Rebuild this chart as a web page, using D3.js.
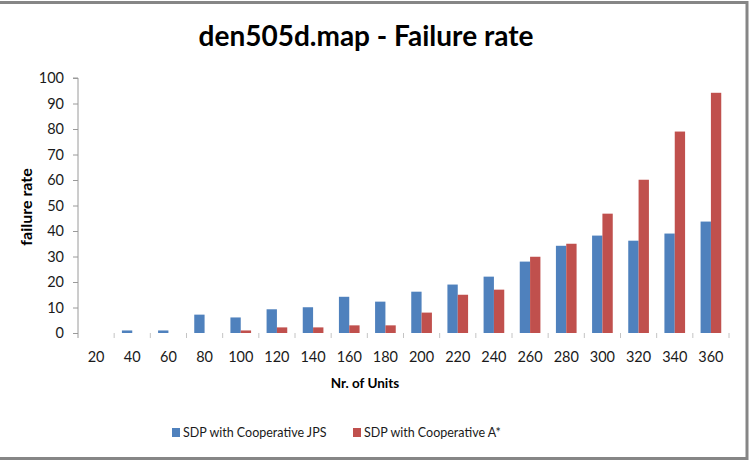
<!DOCTYPE html>
<html>
<head>
<meta charset="utf-8">
<script src="https://cdn.jsdelivr.net/npm/d3@7"></script>
<style>
  body { margin: 0; background: #fff; }
  text { font-family: Lato, "Open Sans", sans-serif; }
</style>
</head>
<body>
<div id="chart"></div>
<script>
// data
var units = [20, 40, 60, 80, 100, 120, 140, 160, 180, 200, 220, 240, 260, 280, 300, 320, 340, 360];
var jpsRate = [0, 1, 1, 7.2, 6.1, 9.3, 10.1, 14.2, 12.3, 16.2, 19, 22.1, 28, 34.2, 38.2, 36.2, 39, 43.7];
var astarRate = [0, 0, 0, 0, 1, 2.2, 2.2, 3, 3, 8, 15, 17, 29.9, 35, 46.8, 60.1, 79, 94.2];
var yTicks = [0, 10, 20, 30, 40, 50, 60, 70, 80, 90, 100];
var seriesNames = ['SDP with Cooperative JPS', 'SDP with Cooperative A*'];
var colors = ['#4f81bd', '#c0504d'];

var W = 751, H = 460;
var plot = {left: 78, right: 729, top: 78, bottom: 333};

var svg = d3.select('#chart').append('svg')
    .attr('width', W)
    .attr('height', H);

svg.append('rect').attr('width', W).attr('height', H).attr('fill', '#fff');

// frame around the chart
svg.append('path')
    .attr('d', 'M0,2.5 H747 V458.5 H0')
    .attr('fill', 'none')
    .attr('stroke', '#868686')
    .attr('stroke-width', 3);

var x = d3.scaleBand()
    .domain(units)
    .range([plot.left, plot.right]);

var x1 = d3.scaleBand()
    .domain([0, 1])
    .range([0, x.bandwidth()])
    .paddingOuter(0.75)
    .paddingInner(0);

var y = d3.scaleLinear()
    .domain([0, 100])
    .range([plot.bottom, plot.top]);

// title
svg.append('text')
    .attr('x', 366).attr('y', 46)
    .attr('text-anchor', 'middle')
    .attr('font-size', 28).attr('font-weight', 'bold')
    .attr('fill', '#000')
    .text('den505d.map - Failure rate');

// y axis
var yAxis = svg.append('g')
    .attr('transform', 'translate(' + plot.left + ',0)')
    .call(d3.axisLeft(y).tickValues(yTicks).tickSize(5).tickPadding(9));
yAxis.select('.domain').attr('stroke', '#9a9a9a').attr('d', 'M-5,' + plot.top + 'H0V' + (plot.bottom + 5));
yAxis.selectAll('.tick line').attr('stroke', '#9a9a9a');
yAxis.selectAll('.tick text').attr('font-size', 14.5).attr('fill', '#1a1a1a')
    .attr('font-family', 'Lato, sans-serif');

// x axis: ticks at category boundaries, labels centered
var xg = svg.append('g');
xg.selectAll('line')
    .data(units)
    .enter().append('line')
    .attr('x1', function(d) { return x(d) + x.bandwidth(); })
    .attr('x2', function(d) { return x(d) + x.bandwidth(); })
    .attr('y1', plot.bottom)
    .attr('y2', plot.bottom + 5)
    .attr('stroke', '#c4c4c4');

xg.selectAll('text')
    .data(units)
    .enter().append('text')
    .attr('x', function(d) { return x(d) + x.bandwidth() / 2; })
    .attr('y', 362)
    .attr('text-anchor', 'middle')
    .attr('font-size', 14.5)
    .attr('fill', '#1a1a1a')
    .text(function(d) { return d; });

// bars
var groups = svg.selectAll('.grp')
    .data(units)
    .enter().append('g')
    .attr('class', 'grp')
    .attr('transform', function(d) { return 'translate(' + x(d) + ',0)'; });

groups.selectAll('rect')
    .data(function(d, i) { return [jpsRate[i], astarRate[i]]; })
    .enter().append('rect')
    .attr('x', function(d, j) { return x1(j); })
    .attr('width', x1.bandwidth())
    .attr('y', function(d) { return y(d); })
    .attr('height', function(d) { return plot.bottom - y(d); })
    .attr('fill', function(d, j) { return colors[j]; });

// axis titles
svg.append('text')
    .attr('x', 365).attr('y', 388)
    .attr('text-anchor', 'middle')
    .attr('font-size', 13.5).attr('font-weight', 'bold')
    .text('Nr. of Units');

svg.append('text')
    .attr('transform', 'translate(32,207) rotate(-90)')
    .attr('text-anchor', 'middle')
    .attr('font-size', 16).attr('font-weight', 'bold')
    .text('failure rate');

// legend
var legendX = [172, 353];
var legend = svg.selectAll('.leg')
    .data(seriesNames)
    .enter().append('g')
    .attr('class', 'leg')
    .attr('transform', function(d, i) { return 'translate(' + legendX[i] + ',428)'; });

legend.append('rect')
    .attr('width', 8).attr('height', 9)
    .attr('fill', function(d, i) { return colors[i]; });

legend.append('text')
    .attr('x', 11).attr('y', 9)
    .attr('font-size', 12.5)
    .attr('fill', '#1a1a1a')
    .text(function(d) { return d; });
</script>
</body>
</html>
